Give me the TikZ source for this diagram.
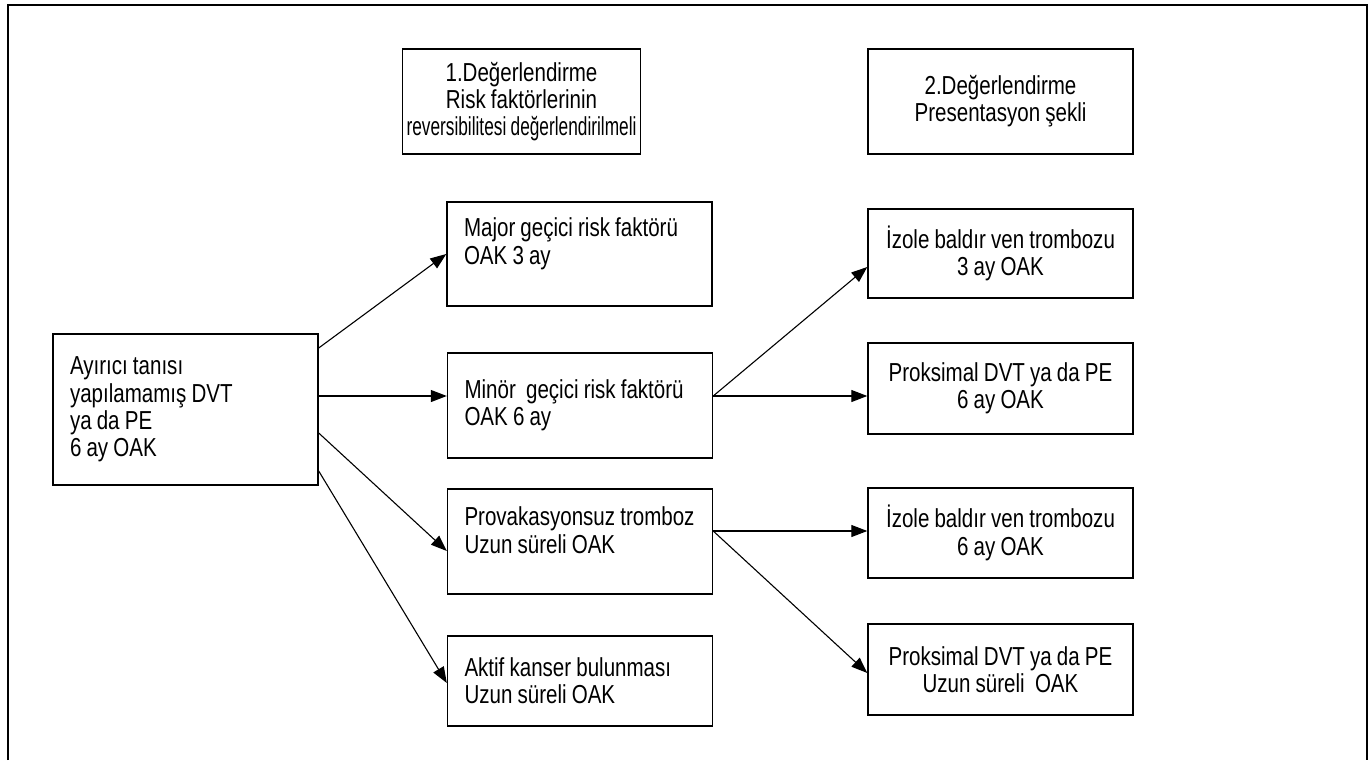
\documentclass[tikz,border=0pt]{standalone}
\usepackage{graphicx}
\usepackage{fontspec}
\setmainfont{Liberation Sans}[FakeStretch=0.79, WordSpace=0.9]
\usetikzlibrary{arrows.meta}

\tikzset{
    base/.style={draw, line width=1.4pt, inner xsep=17pt, inner ysep=0pt,
        font=\fontsize{26}{27.3}\selectfont},
    box/.style={base, text width=231pt, align=flush left},
    cbox/.style={base, align=center, minimum width=265pt},
    arr/.style={line width=1.1pt, -{Triangle[length=16pt,width=12pt]}},
}
\newcommand{\toptext}[2]{\parbox[t][#1][t]{231pt}{\raggedright #2}}

\begin{document}
\begin{tikzpicture}[x=1pt, y=-1pt]
    \useasboundingbox (0,0) rectangle (1372,760);

    % Open frame round the chart
    \draw[line width=1.3pt] (8,760) -- (8,5) -- (1367,5) -- (1367,760);

    % Column headings
    \node[cbox, inner xsep=3pt, minimum width=238pt, minimum height=105pt] (eval1) at (521.5,101.5)
        {1.Değerlendirme\\Risk faktörlerinin\\\resizebox{230pt}{\height}{reversibilitesi değerlendirilmeli}};
    \node[cbox, minimum height=105pt] (eval2) at (1000.5,101.5)
        {2.Değerlendirme\\Presentasyon şekli};

    % Starting box
    \node[box, minimum height=151pt] (start) at (185.5,409.5)
        {Ayırıcı tanısı\\yapılamamış DVT\\ya da PE\\6 ay OAK};

    % First evaluation: risk factors
    \node[box, inner ysep=16pt] (major) at (579.5,254)
        {\toptext{72pt}{Major geçici risk faktörü\\OAK 3 ay}};
    \node[box, minimum height=105pt] (minor) at (580,405.5)
        {Minör\ \ geçici risk faktörü\\OAK 6 ay};
    \node[box, inner ysep=18pt] (provak) at (580,541.5)
        {\toptext{69pt}{Provakasyonsuz tromboz\\Uzun süreli OAK}};
    \node[box, minimum height=90pt] (cancer) at (580,681)
        {Aktif kanser bulunması\\Uzun süreli OAK};

    % Second evaluation: presentation
    \node[cbox, minimum height=89pt] (calf3) at (1000.5,253.5)
        {İzole baldır ven trombozu\\3 ay OAK};
    \node[cbox, minimum height=91pt] (prox6) at (1000.5,388.5)
        {Proksimal DVT ya da PE\\6 ay OAK};
    \node[cbox, minimum height=90pt] (calf6) at (1000.5,533)
        {İzole baldır ven trombozu\\6 ay OAK};
    \node[cbox, minimum height=91pt] (proxlong) at (1000.5,669.5)
        {Proksimal DVT ya da PE\\Uzun süreli\ \ OAK};

    % Arrows
    \draw[arr] ([yshift=61.5pt]start.east) -- (major.west);
    \draw[arr] ([yshift=13.5pt]start.east) -- ([yshift=9.5pt]minor.west);
    \draw[arr] ([yshift=-23.5pt]start.east) -- ([yshift=-9.5pt]provak.west);
    \draw[arr] ([yshift=-61.5pt]start.east) -- ([yshift=-2pt]cancer.west);
    \draw[arr] ([yshift=9.5pt]minor.east) -- ([yshift=-13.5pt]calf3.west);
    \draw[arr] ([yshift=9.5pt]minor.east) -- ([yshift=-7.5pt]prox6.west);
    \draw[arr] ([yshift=10.5pt]provak.east) -- ([yshift=2pt]calf6.west);
    \draw[arr] ([yshift=10.5pt]provak.east) -- ([yshift=-3.5pt]proxlong.west);
\end{tikzpicture}
\end{document}
